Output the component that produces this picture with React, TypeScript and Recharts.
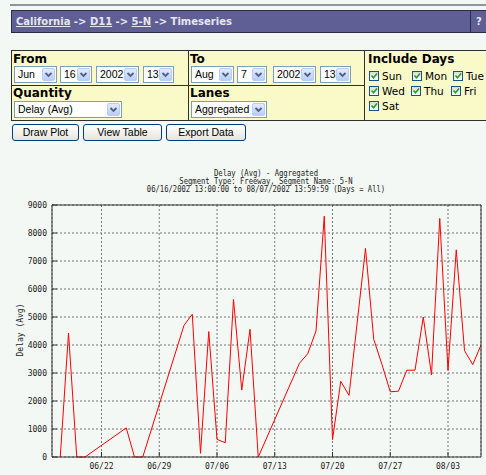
import React from "react";
import { CartesianGrid, Line, LineChart, XAxis, YAxis } from "recharts";

// day offsets from 06/16 and average delay
const DAYS = [
  1, 2, 3, 4, 9, 10, 11, 16, 17, 18, 19, 20, 21, 22, 23, 24, 25, 30, 31, 32,
  33, 34, 35, 36, 38, 39, 40, 41, 42, 43, 44, 45, 46, 47, 48, 49, 50, 51, 52,
];
const DELAY = [
  0, 4430, 0, 0, 1040, 0, 0, 4700, 5100, 130, 4480, 630, 510, 5630, 2390, 4560,
  0, 3350, 3690, 4500, 8600, 620, 2700, 2200, 7450, 4200, 3300, 2330, 2350,
  3100, 3100, 5000, 2930, 8520, 3100, 7400, 3800, 3300, 4000,
];

const MAJOR_DAYS = [6, 13, 20, 27, 34, 41, 48];
const X_LABELS = ["06/22", "06/29", "07/06", "07/13", "07/20", "07/27", "08/03"];
const MINOR_DAYS = Array.from({ length: 51 }, (_, i) => i + 1);
const Y_TICKS = [0, 1000, 2000, 3000, 4000, 5000, 6000, 7000, 8000, 9000];

const TITLE_LINES = [
  "Delay (Avg) - Aggregated",
  "Segment Type: Freeway, Segment Name: 5-N",
  "06/16/2002 13:00:00 to 08/07/2002 13:59:59 (Days = All)",
];

const data = DAYS.map((d, i) => ({ day: d, delay: DELAY[i] }));

const MONO = "'DejaVu Sans Mono', monospace";
const SANS = "'Liberation Sans', Arial, sans-serif";
const VERD = "'DejaVu Sans', Verdana, sans-serif";
const PAGE_BG = "#f4f8f4";
const CELL_BG = "#fafac8";
const LINE = "#303030";

type Box = { x: number; y: number; w: number; h?: number };

function Select({ x, y, w, h = 17, text }: Box & { text: string }) {
  return (
    <div
      style={{
        position: "absolute",
        left: x,
        top: y,
        width: w,
        height: h,
        boxSizing: "border-box",
        border: "1px solid #7f9db9",
        background: "#fff",
        fontFamily: SANS,
        fontSize: 10.5,
        lineHeight: `${h - 2}px`,
        paddingLeft: 3,
        color: "#000",
        whiteSpace: "nowrap",
      }}
    >
      {text}
      <div
        style={{
          position: "absolute",
          right: 1,
          top: 1,
          width: 13,
          height: h - 4,
          boxSizing: "border-box",
          border: "1px solid #b8cdf2",
          borderRadius: 2,
          background: "linear-gradient(#e3ecfd, #b9cdf6)",
        }}
      >
        <svg width={11} height={h - 6} style={{ position: "absolute", left: 0, top: 0 }}>
          <path d="M2.5 4 L5.5 7 L8.5 4" stroke="#4d6185" strokeWidth={1.8} fill="none" />
        </svg>
      </div>
    </div>
  );
}

function Check({ x, y, label }: { x: number; y: number; label: string }) {
  return (
    <>
      <div
        style={{
          position: "absolute",
          left: x,
          top: y,
          width: 10,
          height: 10,
          boxSizing: "border-box",
          border: "1px solid #1c5180",
          background: "linear-gradient(#dcdcd7, #fff)",
        }}
      >
        <svg width={8} height={8} style={{ position: "absolute", left: 0, top: 0 }}>
          <path d="M1.5 3.5 L3.5 5.8 L7 1.5" stroke="#21a121" strokeWidth={1.6} fill="none" />
        </svg>
      </div>
      <div
        style={{
          position: "absolute",
          left: x + 13,
          top: y - 2,
          fontFamily: VERD,
          fontSize: 10.5,
          lineHeight: "14px",
          color: "#000",
        }}
      >
        {label}
      </div>
    </>
  );
}

function Button({ x, w, text }: { x: number; w: number; text: string }) {
  return (
    <div
      style={{
        position: "absolute",
        left: x,
        top: 124,
        width: w,
        height: 17,
        boxSizing: "border-box",
        border: "1px solid #003c74",
        borderRadius: 3,
        background: "linear-gradient(#ffffff, #e6e4dc)",
        fontFamily: SANS,
        fontSize: 10.5,
        lineHeight: "15px",
        textAlign: "center",
        color: "#000",
      }}
    >
      {text}
    </div>
  );
}

function Label({ x, y, text }: { x: number; y: number; text: string }) {
  return (
    <div
      style={{
        position: "absolute",
        left: x,
        top: y,
        fontFamily: VERD,
        fontWeight: 700,
        fontSize: 12,
        lineHeight: "14px",
        color: "#000",
        whiteSpace: "nowrap",
      }}
    >
      {text}
    </div>
  );
}

function Rule({ x, y, w, h }: { x: number; y: number; w: number; h: number }) {
  return <div style={{ position: "absolute", left: x, top: y, width: w, height: h, background: LINE }} />;
}

export default function App() {
  const tickFont = { fontFamily: MONO, fontSize: 8, fill: "#222" };
  const axisStroke = { stroke: "#333" };
  return (
    <div
      style={{
        position: "absolute",
        left: 0,
        top: 0,
        width: 486,
        height: 475,
        overflow: "hidden",
        background: PAGE_BG,
      }}
    >
      <div style={{ position: "absolute", left: 10, top: 4, width: 476, height: 2, background: "#8b979e" }} />

      <div
        style={{
          position: "absolute",
          left: 11,
          top: 10,
          width: 480,
          height: 23,
          boxSizing: "border-box",
          background: "#5f5f96",
          border: "1px solid #2c2c44",
        }}
      >
        <div
          style={{
            position: "absolute",
            left: 4,
            top: 0,
            lineHeight: "21px",
            fontFamily: VERD,
            fontWeight: 700,
            fontSize: 10,
            color: "#e6e6ee",
            whiteSpace: "nowrap",
          }}
        >
          <u>California</u> -&gt; <u>D11</u> -&gt; <u>5-N</u> -&gt; Timeseries
        </div>
        <div style={{ position: "absolute", left: 458, top: 0, width: 1, height: 21, background: "#2c2c44" }} />
        <div
          style={{
            position: "absolute",
            left: 464,
            top: 0,
            lineHeight: "21px",
            fontFamily: VERD,
            fontWeight: 700,
            fontSize: 10,
            color: "#e6e6ee",
          }}
        >
          ?
        </div>
      </div>

      <div
        style={{
          position: "absolute",
          left: 11,
          top: 50,
          width: 480,
          height: 71,
          boxSizing: "border-box",
          background: CELL_BG,
          border: `1px solid ${LINE}`,
        }}
      />
      <Rule x={188} y={50} w={1} h={71} />
      <Rule x={364} y={50} w={1} h={71} />
      <Rule x={11} y={85} w={354} h={1} />

      <Label x={13} y={52} text="From" />
      <Label x={190} y={52} text="To" />
      <Label x={13} y={86} text="Quantity" />
      <Label x={190} y={86} text="Lanes" />
      <Label x={368} y={52} text="Include Days" />

      <Select x={14} y={66} w={43} text="Jun" />
      <Select x={60} y={66} w={32} text="16" />
      <Select x={96} y={66} w={43} text="2002" />
      <Select x={143} y={66} w={31} text="13" />
      <Select x={191} y={66} w={43} text="Aug" />
      <Select x={237} y={66} w={30} text="7" />
      <Select x={273} y={66} w={43} text="2002" />
      <Select x={320} y={66} w={31} text="13" />
      <Select x={14} y={101} w={108} text="Delay (Avg)" />
      <Select x={191} y={101} w={76} text="Aggregated" />

      <Check x={369} y={71} label="Sun" />
      <Check x={412} y={71} label="Mon" />
      <Check x={453} y={71} label="Tue" />
      <Check x={369} y={86} label="Wed" />
      <Check x={411} y={86} label="Thu" />
      <Check x={451} y={86} label="Fri" />
      <Check x={369} y={101} label="Sat" />

      <Button x={12} w={67} text="Draw Plot" />
      <Button x={83} w={79} text="View Table" />
      <Button x={166} w={80} text="Export Data" />

      {TITLE_LINES.map((t, i) => (
        <div
          key={t}
          style={{
            position: "absolute",
            left: 66,
            width: 400,
            top: 169.5 + i * 8,
            textAlign: "center",
            fontFamily: MONO,
            fontSize: 8,
            lineHeight: "8px",
            color: "#222",
            whiteSpace: "nowrap",
            transform: "scaleX(0.9)",
          }}
        >
          {t}
        </div>
      ))}
      <div
        style={{
          position: "absolute",
          left: 20.5 - 40,
          top: 330 - 4,
          width: 80,
          textAlign: "center",
          transform: "rotate(-90deg)",
          fontFamily: MONO,
          fontSize: 8,
          lineHeight: "8px",
          color: "#222",
        }}
      >
        Delay (Avg)
      </div>

      <div style={{ position: "absolute", left: 0, top: 150 }}>
        <LineChart width={486} height={325} data={data} margin={{ top: 53, right: 4, bottom: 16, left: 51 }}>
          <CartesianGrid xAxisId="main" yAxisId="left" stroke="#777" strokeDasharray="2 2" />
          <XAxis
            xAxisId="main"
            dataKey="day"
            type="number"
            domain={[0, 52]}
            ticks={MAJOR_DAYS}
            interval={0}
            tickFormatter={(v: number) => X_LABELS[MAJOR_DAYS.indexOf(v)] ?? ""}
            height={1}
            tickSize={-5}
            tickMargin={11}
            tick={tickFont}
            tickLine={axisStroke}
            axisLine={axisStroke}
          />
          <XAxis
            xAxisId="minorB"
            dataKey="day"
            type="number"
            domain={[0, 52]}
            ticks={MINOR_DAYS}
            interval={0}
            height={1}
            tickSize={-4}
            tick={false}
            tickLine={axisStroke}
            axisLine={false}
          />
          <XAxis
            xAxisId="majorT"
            orientation="top"
            dataKey="day"
            type="number"
            domain={[0, 52]}
            ticks={MAJOR_DAYS}
            interval={0}
            height={1}
            tickSize={-5}
            tick={false}
            tickLine={axisStroke}
            axisLine={axisStroke}
          />
          <XAxis
            xAxisId="minorT"
            orientation="top"
            dataKey="day"
            type="number"
            domain={[0, 52]}
            ticks={MINOR_DAYS}
            interval={0}
            height={1}
            tickSize={-4}
            tick={false}
            tickLine={axisStroke}
            axisLine={false}
          />
          <YAxis
            yAxisId="left"
            type="number"
            domain={[0, 9000]}
            ticks={Y_TICKS}
            interval={0}
            width={1}
            tickSize={-5}
            tickMargin={10}
            tick={tickFont}
            tickLine={axisStroke}
            axisLine={axisStroke}
          />
          <YAxis
            yAxisId="right"
            orientation="right"
            type="number"
            domain={[0, 9000]}
            ticks={Y_TICKS}
            interval={0}
            width={1}
            tickSize={-5}
            tick={false}
            tickLine={axisStroke}
            axisLine={axisStroke}
          />
          <Line
            xAxisId="main"
            yAxisId="left"
            type="linear"
            dataKey="delay"
            stroke="#ff0000"
            strokeWidth={1}
            dot={false}
            isAnimationActive={false}
          />
        </LineChart>
      </div>
    </div>
  );
}
